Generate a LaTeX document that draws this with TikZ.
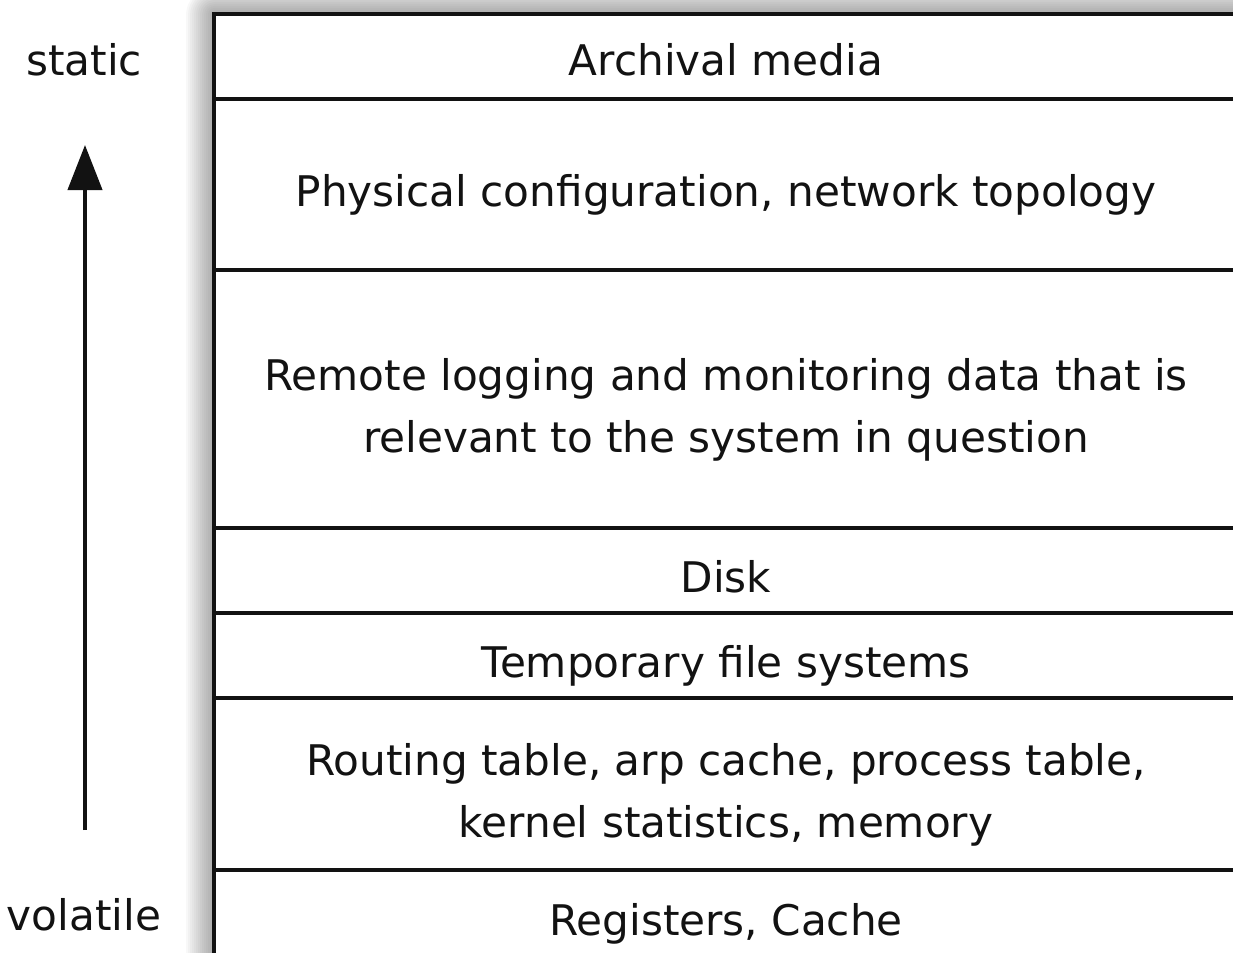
\documentclass[tikz,border=0pt]{standalone}
\usepackage{fontspec}
\setmainfont{DejaVu Sans}
\usepackage{xcolor}
\usetikzlibrary{arrows.meta}
\definecolor{ink}{RGB}{18,18,18}

\begin{document}
\begin{tikzpicture}[x=0.025cm, y=-0.025cm,
    layer/.style={anchor=base, align=center, font=\fontsize{30}{44}\selectfont, color=ink},
    side/.style={anchor=base, font=\fontsize{30}{44}\selectfont, color=ink}]
    \useasboundingbox (0,0) rectangle (1233,952);
    \clip (0,0) rectangle (1233,952);
    % soft shadow behind the table
    \foreach \i in {1,...,14}
        \fill[black, opacity=0.028, rounded corners=\i*1.5pt] (214-2*\i,14-2*\i) rectangle (1300,1000);
    \fill[white] (214,14) rectangle (1300,1000);
    \draw[ink, line width=3.5pt] (214,14) rectangle (1300,1000);
    \foreach \y in {99,270,528,613,698,870}
        \draw[ink, line width=3.5pt] (214,\y) -- (1300,\y);
    \node[layer] (archival) at (726,76) {Archival media};
    \node[layer] (physical) at (726,206) {Physical configuration, network topology};
    \node[layer] (remote) at (726,452) {Remote logging and monitoring data that is\\relevant to the system in question};
    \node[layer] (disk) at (726,592) {Disk};
    \node[layer] (tempfs) at (726,677) {Temporary file systems};
    \node[layer] (routing) at (726,837) {Routing table, arp cache, process table,\\kernel statistics, memory};
    \node[layer] (registers) at (726,935) {Registers, Cache};
    \node[side] (static) at (84,76) {static};
    \node[side] (volatile) at (84,930) {volatile};
    \coordinate (foot) at (85,830);
    \coordinate (tip) at (85,145);
    \draw[ink, line width=3pt, -{Triangle[length=1.125cm, width=0.85cm]}] (foot) -- (tip);
\end{tikzpicture}
\end{document}
